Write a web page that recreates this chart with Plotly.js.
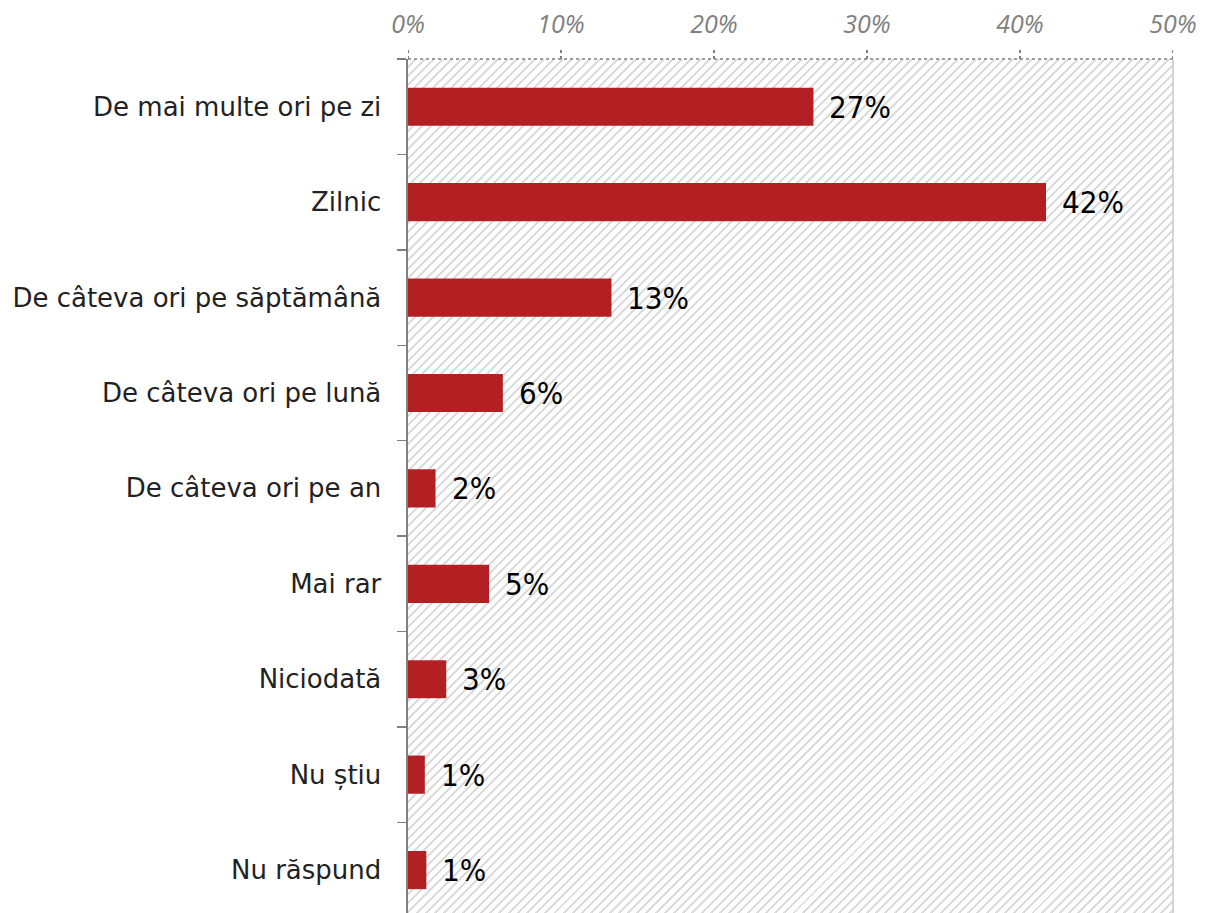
<!DOCTYPE html>
<html><head><meta charset="utf-8">
<script src="https://cdn.plot.ly/plotly-3.0.1.min.js"></script>
<style>
html,body{margin:0;padding:0;background:#fff;}
#wrap{position:relative;width:1207px;height:913px;}
#hatch{position:absolute;background:repeating-linear-gradient(135deg,#fff 0px,#fff 4.4px,#dcdcdc 4.4px,#dcdcdc 6.5px);}
#chart{position:absolute;left:0;top:0;width:1207px;height:913px;}
</style></head>
<body>
<div id="wrap"><div id="hatch"></div><div id="chart"></div></div>
<script>
const categories = ["De mai multe ori pe zi","Zilnic","De câteva ori pe săptămână","De câteva ori pe lună","De câteva ori pe an","Mai rar","Niciodată","Nu știu","Nu răspund"];
const values = [26.5, 41.7, 13.3, 6.2, 1.8, 5.3, 2.5, 1.1, 1.2];
const valueLabels = ["27%","42%","13%","6%","2%","5%","3%","1%","1%"];
const tickVals = [0,10,20,30,40,50];
const tickText = ["0%","10%","20%","30%","40%","50%"];

const trace = {
  type:'bar', orientation:'h', y:categories, x:values,
  marker:{color:'#B22024'}, hoverinfo:'none'
};
const annotations = categories.map((c,i)=>({
  x:values[i], y:c, xref:'x', yref:'y', text:valueLabels[i], showarrow:false,
  xanchor:'left', yanchor:'middle', xshift:14, yshift:0,
  font:{family:'DejaVu Sans Condensed, DejaVu Sans', size:31, color:'#000'}
}));
const shapes = tickVals.map(v=>({
  type:'line', xref:'x', yref:'paper', x0:v, x1:v, yanchor:1, ysizemode:'pixel', y0:0, y1:10,
  line:{color:'#808080', width:2, dash:'dot'}
}));
shapes.push({type:'line', xref:'paper', yref:'paper', x0:0, x1:1, y0:1, y1:1, line:{color:'#808080', width:1.5, dash:'dot'}});
shapes.push({type:'line', xref:'paper', yref:'paper', x0:1, x1:1, y0:0, y1:1, line:{color:'#c8c8c8', width:1.5}});

const layout = {
  width:1207, height:913,
  margin:{l:408, r:34, t:59, b:0, pad:0},
  paper_bgcolor:'rgba(0,0,0,0)', plot_bgcolor:'rgba(0,0,0,0)',
  bargap:0.6, showlegend:false,
  xaxis:{side:'top', range:[0,50], tickvals:tickVals, ticktext:tickText,
    ticks:'outside', ticklen:10, tickcolor:'rgba(0,0,0,0)', ticklabelstandoff:5,
    showgrid:false, zeroline:false, showline:false,
    tickfont:{family:'Open Sans', size:25, color:'#808080', style:'italic'}, fixedrange:true},
  yaxis:{type:'category', range:[8.45,-0.5], tickson:'boundaries', ticks:'outside', ticklen:9, tickcolor:'#808080', tickwidth:1.5,
    showline:true, linecolor:'#808080', linewidth:2.5, showgrid:false, zeroline:false,
    tickfont:{family:'DejaVu Sans', size:26, color:'#222'}, ticklabelstandoff:19, fixedrange:true},
  annotations:annotations, shapes:shapes
};
Plotly.newPlot('chart',[trace],layout,{displayModeBar:false, staticPlot:true}).then(gd=>{
  const s = gd._fullLayout._size;
  const h = document.getElementById('hatch');
  h.style.left = s.l+'px'; h.style.top = s.t+'px'; h.style.width = s.w+'px'; h.style.height = s.h+'px';
});
</script>
</body></html>
